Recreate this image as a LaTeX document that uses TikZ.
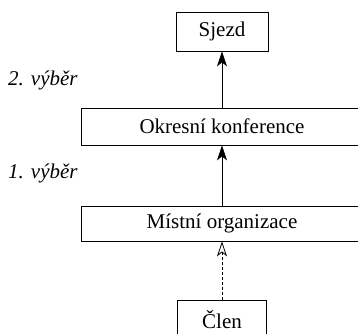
\documentclass[tikz,border=0pt]{standalone}
\usepackage{fontspec}
\setmainfont{Liberation Serif}
\usetikzlibrary{arrows.meta}
\begin{document}
\begin{tikzpicture}[x=1pt,y=-1pt,font=\fontsize{21}{25}\selectfont,
    box/.style={draw,line width=.8pt,inner sep=0pt,minimum height=37pt},
    up/.style={line width=.8pt,-{Stealth[length=15pt,width=10pt,inset=4pt]}}]
    \useasboundingbox(0,0)rectangle(358,333);
    \node[box,minimum width=92pt,minimum height=39pt](sjezd)at(222,31.5){Sjezd};
    \node[box,minimum width=282pt](okres)at(222,126.5){Okresní konference};
    \node[box,minimum width=282pt,minimum height=35pt](mistni)at(222,223.5){Místní organizace};
    \node[box,minimum width=89pt,minimum height=39pt](clen)at(222,319.5){Člen};
    \node[anchor=west,inner sep=0pt,font=\fontsize{21}{25}\selectfont\itshape](v2)at(8,80){2. výběr};
    \node[anchor=west,inner sep=0pt,font=\fontsize{21}{25}\selectfont\itshape](v1)at(8,173){1. výběr};
    \draw[up](okres)--(sjezd);
    \draw[up](mistni)--(okres);
    \draw[line width=.8pt,densely dashed,-{Stealth[open,length=15pt,width=10pt,inset=4pt]}](clen)--(mistni);
\end{tikzpicture}
\end{document}
